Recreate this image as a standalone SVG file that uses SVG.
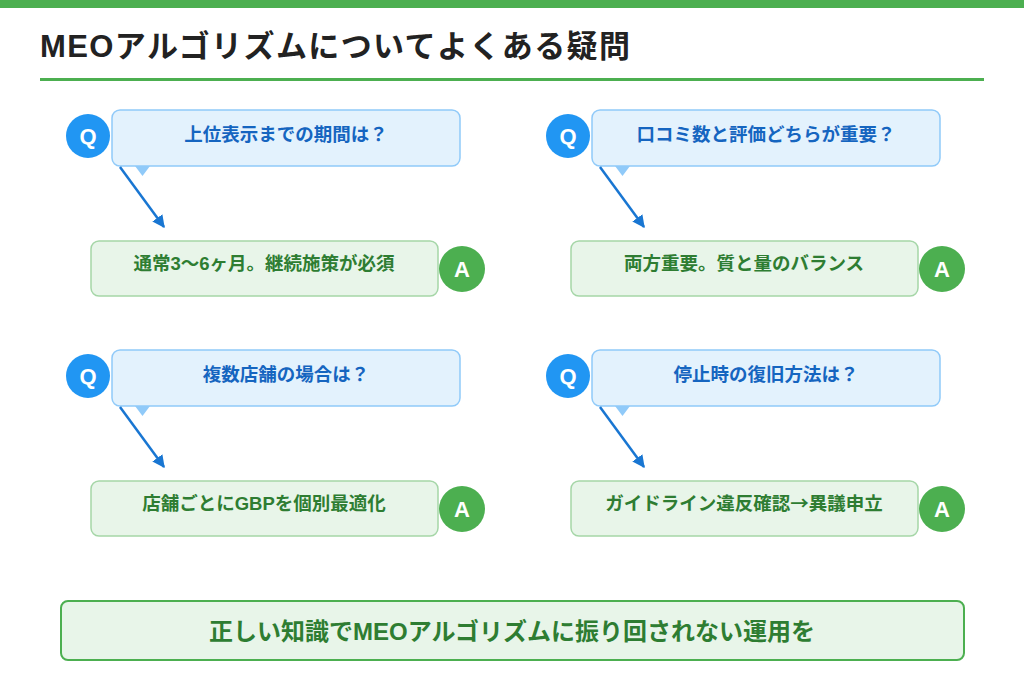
<svg xmlns="http://www.w3.org/2000/svg" width="1024" height="683" viewBox="0 0 1024 683">
<style>
.t{font-family:"Liberation Sans","Noto Sans CJK JP",sans-serif;font-weight:bold}
.cjk{font-family:"Noto Sans CJK JP",sans-serif}
.qbox{fill:#E3F2FD;stroke:#90CAF9;stroke-width:1.5}
.abox{fill:#E8F5E9;stroke:#A5D6A7;stroke-width:1.5}
.qc{fill:#2196F3}
.ac{fill:#4CAF50}
.tail{fill:#90CAF9}
.qt{fill:#1565C0;font-size:18.5px}
.at{fill:#2E7D32;font-size:18.5px}
.lt{fill:#fff;font-size:22px}
.conn{stroke:#1976D2;stroke-width:2.5;fill:none}
</style>
<defs>
<marker id="ah" viewBox="0 0 10 10" refX="9" refY="5" markerWidth="5" markerHeight="5" orient="auto" markerUnits="strokeWidth">
<path d="M0,0 L10,5 L0,10 z" fill="#1976D2"/>
</marker>
</defs>
<rect x="0" y="0" width="1024" height="8" fill="#4CAF50"/>
<text class="t" x="40" y="57" font-size="31" fill="#222" letter-spacing="1.4">MEOアルゴリズムについてよくある疑問</text>
<rect x="40" y="78" width="944" height="3" fill="#4CAF50"/>

<g id="q1">
<rect class="qbox" x="112" y="110" width="348" height="56" rx="8"/>
<path class="tail" d="M135,166 L150,166 L142.5,176 z"/>
<circle class="qc" cx="88" cy="136" r="22"/>
<text class="t lt" x="88" y="144" text-anchor="middle">Q</text>
<text class="t qt" x="286" y="141" text-anchor="middle">上位表示までの期間は？</text>
</g>
<g id="a1">
<rect class="abox" x="91" y="241" width="347" height="55" rx="8"/>
<circle class="ac" cx="462" cy="269" r="23"/>
<text class="t lt" x="462" y="277" text-anchor="middle">A</text>
<text class="t at" x="264" y="270" text-anchor="middle">通常3〜6ヶ月。継続施策が必須</text>
</g>

<g id="q2">
<rect class="qbox" x="592" y="110" width="348" height="56" rx="8"/>
<path class="tail" d="M615,166 L630,166 L622.5,176 z"/>
<circle class="qc" cx="568" cy="136" r="22"/>
<text class="t lt" x="568" y="144" text-anchor="middle">Q</text>
<text class="t qt" x="766" y="141" text-anchor="middle">口コミ数と評価どちらが重要？</text>
</g>
<g id="a2">
<rect class="abox" x="571" y="241" width="347" height="55" rx="8"/>
<circle class="ac" cx="942" cy="269" r="23"/>
<text class="t lt" x="942" y="277" text-anchor="middle">A</text>
<text class="t at" x="744" y="270" text-anchor="middle">両方重要。質と量のバランス</text>
</g>

<g id="q3">
<rect class="qbox" x="112" y="350" width="348" height="56" rx="8"/>
<path class="tail" d="M135,406 L150,406 L142.5,416 z"/>
<circle class="qc" cx="88" cy="376" r="22"/>
<text class="t lt" x="88" y="384" text-anchor="middle">Q</text>
<text class="t qt" x="286" y="381" text-anchor="middle">複数店舗の場合は？</text>
</g>
<g id="a3">
<rect class="abox" x="91" y="481" width="347" height="55" rx="8"/>
<circle class="ac" cx="462" cy="509" r="23"/>
<text class="t lt" x="462" y="517" text-anchor="middle">A</text>
<text class="t at" x="264" y="510" text-anchor="middle">店舗ごとにGBPを個別最適化</text>
</g>

<g id="q4">
<rect class="qbox" x="592" y="350" width="348" height="56" rx="8"/>
<path class="tail" d="M615,406 L630,406 L622.5,416 z"/>
<circle class="qc" cx="568" cy="376" r="22"/>
<text class="t lt" x="568" y="384" text-anchor="middle">Q</text>
<text class="t qt" x="766" y="381" text-anchor="middle">停止時の復旧方法は？</text>
</g>
<g id="a4">
<rect class="abox" x="571" y="481" width="347" height="55" rx="8"/>
<circle class="ac" cx="942" cy="509" r="23"/>
<text class="t lt" x="942" y="517" text-anchor="middle">A</text>
<text class="t at" x="744" y="510" text-anchor="middle">ガイドライン違反確認<tspan class="cjk">→</tspan>異議申立</text>
</g>

<g id="connectors">
<line class="conn" x1="120" y1="167" x2="164" y2="227" marker-end="url(#ah)"/>
<line class="conn" x1="600" y1="167" x2="644" y2="227" marker-end="url(#ah)"/>
<line class="conn" x1="120" y1="407" x2="164" y2="467" marker-end="url(#ah)"/>
<line class="conn" x1="600" y1="407" x2="644" y2="467" marker-end="url(#ah)"/>
</g>

<g id="summary">
<rect x="61" y="601" width="903" height="59" rx="7" fill="#E8F5E9" stroke="#4CAF50" stroke-width="2"/>
<text class="t" x="512" y="640" font-size="24" fill="#2E7D32" text-anchor="middle">正しい知識でMEOアルゴリズムに振り回されない運用を</text>
</g>
</svg>
